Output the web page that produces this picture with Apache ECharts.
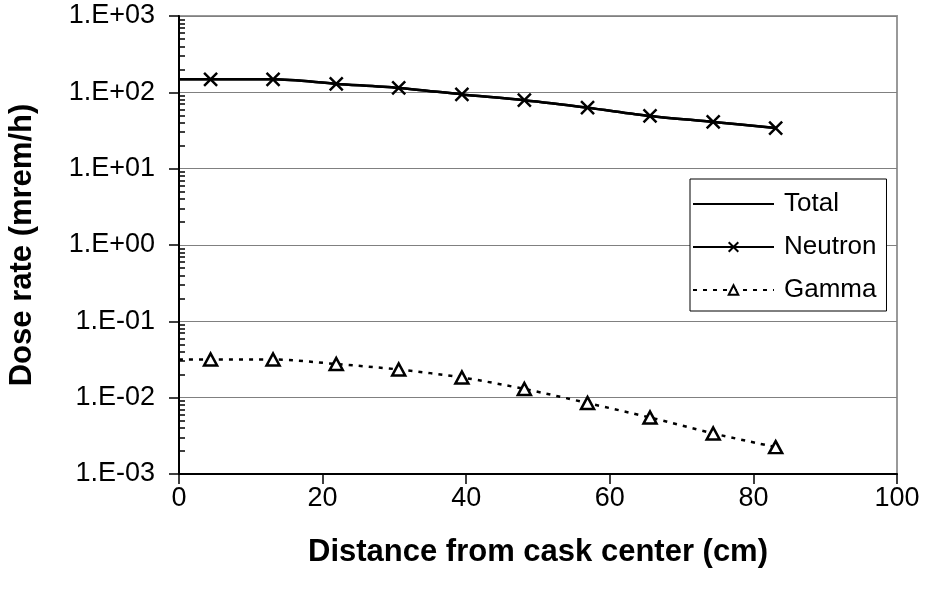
<!DOCTYPE html>
<html>
<head>
<meta charset="utf-8">
<script src="https://cdn.jsdelivr.net/npm/echarts@6/dist/echarts.min.js"></script>
<style>
  html, body { margin: 0; padding: 0; background: #fff; }
  #chart { width: 926px; height: 596px; }
</style>
</head>
<body>
<div id="chart"></div>
<script>
// distances (cm); first point at 0 only carries the line to the axis
var distance = [0, 4.4, 13.1, 21.9, 30.6, 39.4, 48.1, 56.9, 65.6, 74.4, 83.1];
var total    = [148, 148, 148, 129, 114, 94, 79, 63, 49, 41, 34];
var neutron  = [148, 148, 148, 129, 114, 94, 79, 63, 49, 41, 34];
var gamma    = [0.0316, 0.0316, 0.0316, 0.0276, 0.0234, 0.0184, 0.0130, 0.0085, 0.0055, 0.0034, 0.00225];

var xTicks = [0, 20, 40, 60, 80, 100];
var yTickLabels = ['1.E-03', '1.E-02', '1.E-01', '1.E+00', '1.E+01', '1.E+02', '1.E+03'];

var font = 'Liberation Sans, Arial, sans-serif';

function pairs(vals, hideFirst) {
  return distance.map(function (d, i) {
    var item = { value: [d, vals[i]] };
    if (i === 0 && hideFirst) item.symbol = 'none';
    return item;
  });
}

var chart = echarts.init(document.getElementById('chart'));

chart.setOption({
  animation: false,
  backgroundColor: '#fff',
  grid: {
    left: 179, right: 29, top: 16, bottom: 122,
    containLabel: false, outerBoundsMode: 'none',
    show: true, borderColor: '#999', borderWidth: 2
  },
  legend: {
    left: 690, top: 179,
    orient: 'vertical',
    backgroundColor: '#fff',
    borderColor: '#000', borderWidth: 1,
    padding: [10, 10, 6, 2],
    itemWidth: 81, itemHeight: 12, itemGap: 13,
    textStyle: { fontFamily: font, fontSize: 26, color: '#000', lineHeight: 30, padding: [0, 0, 0, 5] },
    data: [
      { name: 'Total', itemStyle: { color: 'transparent', borderWidth: 0, opacity: 0 } },
      'Neutron',
      'Gamma'
    ]
  },
  xAxis: {
    type: 'value', min: xTicks[0], max: xTicks[xTicks.length - 1], interval: 20,
    name: 'Distance from cask center (cm)',
    nameLocation: 'middle', nameGap: 63,
    nameTextStyle: { fontFamily: font, fontSize: 31, fontWeight: 'bold', color: '#000' },
    axisLine: { lineStyle: { color: '#000', width: 2 } },
    axisTick: { length: 10, lineStyle: { color: '#000', width: 1.5 } },
    axisLabel: { margin: 11, fontFamily: font, fontSize: 27, color: '#000' },
    splitLine: { show: false }
  },
  yAxis: {
    type: 'log', logBase: 10, min: 0.001, max: 1000, interval: 1,
    name: 'Dose rate (mrem/h)',
    nameLocation: 'middle', nameGap: 141,
    nameTextStyle: { fontFamily: font, fontSize: 31, fontWeight: 'bold', color: '#000' },
    axisLine: { show: true, lineStyle: { color: '#000', width: 2 } },
    axisTick: { show: true, length: 10, lineStyle: { color: '#000', width: 1.5 } },
    minorTick: { show: true, splitNumber: 9, length: -6, lineStyle: { color: '#000', width: 1.5 } },
    axisLabel: {
      margin: 24, fontFamily: font, fontSize: 27, color: '#000',
      formatter: function (v) {
        var e = Math.round(Math.log(v) / Math.LN10);
        return yTickLabels[e + 3];
      }
    },
    splitLine: { show: true, lineStyle: { color: '#808080', width: 1.2 } }
  },
  series: [
    {
      name: 'Total', type: 'line', smooth: 0.3,
      symbol: 'none',
      lineStyle: { color: '#000', width: 2.5 },
      itemStyle: { color: '#000' },
      data: pairs(total, true)
    },
    {
      name: 'Neutron', type: 'line', smooth: 0.3,
      symbol: 'path://M0,0L10,10M10,0L0,10', symbolSize: 13,
      lineStyle: { color: '#000', width: 2.5 },
      itemStyle: { color: 'none', borderColor: '#000', borderWidth: 2.5 },
      data: pairs(neutron, true)
    },
    {
      name: 'Gamma', type: 'line', smooth: 0.3,
      symbol: 'triangle', symbolSize: [13, 12],
      lineStyle: { color: '#000', width: 2.5, type: [4, 6] },
      itemStyle: { color: '#fff', borderColor: '#000', borderWidth: 2.5 },
      data: pairs(gamma, true)
    }
  ]
});
</script>
</body>
</html>
